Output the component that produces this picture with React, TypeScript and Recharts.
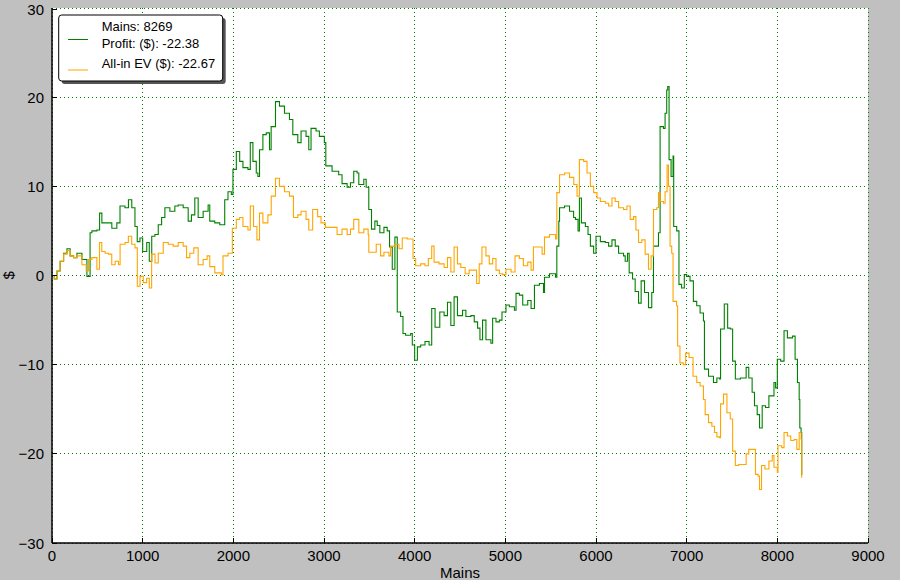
import React from "react";
import { LineChart, Line, XAxis, YAxis, CartesianGrid, Legend } from "recharts";

const FONT = '"Liberation Sans", Arial, sans-serif';

// hands played (x) and running totals in $ for each series
const profitHands = [
  0, 25, 55, 90, 128, 165, 200, 238, 275, 330, 385, 420, 440, 495, 525, 550, 605, 660, 715, 750,
  805, 843, 880, 915, 940, 970, 1000, 1045, 1073, 1100, 1135, 1172, 1209, 1245, 1300, 1355, 1392,
  1447, 1502, 1538, 1575, 1612, 1667, 1722, 1740, 1795, 1850, 1886, 1905, 1941, 1978, 1996, 2033,
  2070, 2106, 2161, 2187, 2216, 2253, 2271, 2289, 2326, 2363, 2399, 2417, 2465, 2509, 2564, 2619,
  2656, 2711, 2747, 2802, 2832, 2857, 2912, 2949, 3004, 3020, 3089, 3162, 3199, 3255, 3292, 3328,
  3365, 3384, 3439, 3465, 3494, 3524, 3561, 3587, 3616, 3661, 3697, 3723, 3753, 3782, 3808, 3845,
  3871, 3900, 3956, 3974, 4000, 4030, 4066, 4114, 4159, 4188, 4225, 4277, 4325, 4362, 4399, 4435,
  4472, 4528, 4565, 4620, 4657, 4694, 4720, 4749, 4786, 4841, 4860, 4897, 4934, 4963, 5007, 5044,
  5100, 5118, 5155, 5192, 5247, 5284, 5321, 5376, 5421, 5432, 5487, 5554, 5568, 5590, 5598, 5653,
  5708, 5753, 5773, 5802, 5817, 5839, 5883, 5912, 5938, 5974, 6000, 6048, 6103, 6139, 6176, 6212,
  6249, 6304, 6322, 6348, 6366, 6403, 6432, 6469, 6498, 6535, 6579, 6615, 6634, 6670, 6689, 6707,
  6744, 6762, 6780, 6791, 6806, 6828, 6850, 6857, 6890, 6915, 6944, 6974, 7000, 7037, 7074, 7111,
  7148, 7185, 7196, 7241, 7296, 7333, 7363, 7374, 7415, 7452, 7481, 7507, 7537, 7593, 7656, 7685,
  7722, 7748, 7778, 7804, 7833, 7870, 7907, 7944, 7963, 7981, 8000, 8037, 8074, 8111, 8167, 8196,
  8222, 8241, 8248, 8262, 8269,
];
const profitValues = [
  0, -0.4, 0.5, 1.6, 2.5, 3.0, 2.2, 2.0, 2.5, 1.8, -0.1, 4.8, 5.0, 5.1, 7.0, 5.9, 5.9, 5.3, 5.9, 7.8,
  7.6, 8.5, 7.6, 5.5, 3.8, 4.2, 2.7, 3.7, 1.6, 4.4, 4.6, 5.7, 6.5, 7.6, 7.2, 7.8, 7.9,
  7.6, 6.1, 6.8, 8.7, 6.5, 7.2, 7.9, 6.1, 5.9, 5.7, 5.7, 8.5, 9.4, 9.1, 11.9, 13.9,
  12.8, 12.1, 11.9, 14.9, 12.8, 11.5, 11.1, 14.1, 15.8, 16.0, 14.1, 16.7, 19.5, 19.0, 18.2, 17.5,
  15.8, 14.9, 16.2, 15.6, 14.1, 16.5, 16.2, 15.6, 14.9, 12.3, 11.7, 11.3, 10.3, 9.9, 10.4, 11.7,
  11.5, 10.2, 10.8, 9.9, 7.4, 5.2, 6.1, 5.6, 4.8, 5.4, 5.0, 3.2, 0.7, 4.3, -4.1, -4.6,
  -6.5, -6.7, -6.5, -7.8, -9.5, -8.0, -7.8, -7.4, -7.8, -3.7, -5.8, -4.1, -4.5, -3.0, -5.6, -2.4,
  -4.5, -3.9, -4.6, -4.5, -5.2, -5.9, -7.2, -5.0, -7.2, -7.6, -4.8, -5.2, -5.0, -4.1, -3.3, -3.5,
  -3.9, -2.0, -2.2, -3.3, -2.8, -3.7, -1.1, -0.9, -1.9, -0.2, 0.2, -0.2, 3.3, 6.1, 7.6, 7.8,
  7.2, 6.5, 6.3, 5.0, 8.7, 5.9, 5.5, 4.6, 3.3, 2.5, 4.4, 3.8, 3.7, 3.3, 4.0, 3.3,
  2.5, 2.2, 1.6, 2.5, 0.3, -0.4, -1.8, -3.1, -0.6, -1.9, -3.6, -1.9, 3.3, 3.3, 4.8, 16.7,
  16.5, 18.2, 20.8, 21.2, 13.0, 11.1, 13.4, 5.5, 5.0, -1.0, -1.4, 0.1, -0.1, -0.6, -2.9, -3.4,
  -4.2, -5.1, -10.5, -11.3, -12.0, -11.5, -11.6, -6.0, -3.2, -5.9, -6.0, -9.6, -11.6, -11.5, -10.3, -11.5,
  -13.1, -14.6, -15.6, -17.1, -14.6, -14.8, -13.5, -13.5, -12.0, -12.6, -9.4, -9.6, -6.2, -7.0, -6.8, -9.4,
  -12.0, -13.9, -17.1, -17.6, -22.38,
];

const evHands = [
  0, 25, 55, 90, 128, 165, 200, 238, 275, 330, 377, 403, 440, 495, 524, 549, 586, 623, 659, 696,
  733, 751, 806, 842, 879, 916, 941, 971, 1007, 1044, 1073, 1099, 1136, 1172, 1209, 1227, 1282,
  1337, 1392, 1447, 1484, 1520, 1564, 1612, 1667, 1711, 1740, 1795, 1868, 1886, 1941, 1978, 1989,
  2033, 2070, 2106, 2161, 2187, 2223, 2260, 2289, 2326, 2381, 2418, 2465, 2509, 2564, 2619, 2663,
  2711, 2747, 2802, 2832, 2875, 2930, 2967, 3015, 3070, 3144, 3199, 3255, 3292, 3328, 3365, 3384,
  3439, 3487, 3494, 3550, 3576, 3624, 3661, 3716, 3734, 3782, 3827, 3863, 3919, 3956, 3982, 4011,
  4066, 4114, 4151, 4188, 4214, 4269, 4325, 4362, 4399, 4435, 4472, 4509, 4557, 4601, 4646, 4683,
  4712, 4742, 4786, 4823, 4860, 4897, 4934, 4970, 5007, 5063, 5107, 5155, 5199, 5247, 5284, 5310,
  5358, 5406, 5432, 5487, 5554, 5568, 5598, 5653, 5708, 5755, 5791, 5817, 5864, 5901, 5938, 5974,
  6011, 6048, 6103, 6139, 6176, 6212, 6249, 6304, 6341, 6377, 6414, 6440, 6469, 6505, 6542, 6579,
  6608, 6634, 6670, 6689, 6707, 6744, 6762, 6784, 6799, 6817, 6835, 6850, 6889, 6900, 6926, 6963,
  6989, 7026, 7070, 7111, 7148, 7185, 7204, 7241, 7278, 7307, 7333, 7363, 7374, 7407, 7444, 7481,
  7507, 7537, 7574, 7630, 7656, 7685, 7741, 7759, 7789, 7804, 7826, 7863, 7907, 7944, 7963, 8000,
  8007, 8048, 8074, 8111, 8148, 8185, 8215, 8241, 8262, 8269,
];
const evValues = [
  0, -0.4, 0.5, 1.6, 2.4, 2.8, 2.2, 2.0, 2.2, 1.2, 0.5, 1.8, 2.0, 0.7, 3.7, 2.7, 2.5, 2.4, 1.2, 1.6,
  1.2, 3.5, 3.7, 4.4, 3.5, 3.1, -1.2, -0.1, -0.8, -0.3, -1.4, 2.4, 1.4, 2.5, 2.5, 3.7, 3.5,
  3.3, 3.7, 3.3, 2.0, 2.5, 3.1, 1.2, 1.8, 2.2, 1.0, 0.3, 0.1, 2.2, 2.5, 2.5, 5.3,
  6.3, 6.5, 5.5, 5.1, 7.8, 5.5, 4.0, 7.0, 5.9, 6.8, 8.9, 10.9, 10.0, 9.4, 8.9, 6.5,
  6.8, 7.2, 6.3, 5.1, 7.4, 6.6, 5.9, 5.4, 5.4, 4.6, 5.2, 4.6, 5.2, 6.3, 6.3, 4.8,
  5.2, 4.6, 2.6, 2.6, 3.5, 2.2, 2.6, 2.2, 3.3, 3.5, 3.0, 4.2, 4.1, 4.1, 1.9, 1.1,
  1.3, 1.1, 1.9, 3.3, 1.5, 1.3, 0.9, 2.0, 0.4, 3.2, 1.3, 0.9, 0.2, 0.6, 0.6, -0.9,
  1.3, 3.2, 2.2, 1.3, 1.9, 0.6, 0.2, 0.1, 0.7, 0.4, 2.2, 1.9, 1.1, 1.5, 0.6, 3.2,
  3.2, 2.4, 4.3, 4.6, 4.1, 9.3, 11.3, 11.5, 11.0, 10.2, 8.9, 13.0, 12.8, 11.5, 10.0, 9.3,
  8.7, 8.3, 8.1, 7.8, 8.7, 8.3, 7.6, 7.4, 7.8, 6.3, 6.6, 5.1, 3.7, 4.0, 2.4, 0.7,
  2.2, 7.4, 7.6, 9.3, 8.3, 8.1, 9.4, 12.4, 10.0, 3.3, 2.5, -2.9, -3.4, -7.9, -9.8, -10.0,
  -8.7, -9.2, -11.3, -12.0, -12.4, -13.9, -15.6, -16.5, -16.9, -17.6, -18.1, -18.2, -14.4, -13.3, -15.4, -16.1,
  -19.7, -21.3, -21.2, -21.2, -20.0, -19.5, -19.5, -22.3, -22.5, -24.0, -21.3, -21.7, -20.8, -20.2, -21.5, -22.1,
  -19.1, -19.3, -17.6, -18.0, -18.5, -18.4, -19.5, -17.6, -18.4, -22.67,
];

const xTicks = [0, 1000, 2000, 3000, 4000, 5000, 6000, 7000, 8000, 9000];
const yTicks = [-30, -20, -10, 0, 10, 20, 30];

const legendLines = ["Mains: 8269", "Profit: ($): -22.38", "All-in EV ($): -22.67"];

const profitData = profitHands.map((h, i) => ({ h, v: profitValues[i] }));
const evData = evHands.map((h, i) => ({ h, v: evValues[i] }));

const fmt = (v: number) => (v < 0 ? `\u2212${-v}` : `${v}`);

function BottomTick({ x, y, payload }: any) {
  return (
    <g>
      <line x1={x} y1={y} x2={x} y2={y - 5} stroke="#000" shapeRendering="crispEdges" />
      <text x={x} y={y + 17.5} textAnchor="middle" fontSize={15} fontFamily={FONT} fill="#000">
        {payload.value}
      </text>
    </g>
  );
}

function LeftTick({ x, y, payload }: any) {
  return (
    <g>
      <line x1={x} y1={y} x2={x + 5} y2={y} stroke="#000" shapeRendering="crispEdges" />
      <text x={x - 8} y={y + 5.5} textAnchor="end" fontSize={15} fontFamily={FONT} fill="#000">
        {fmt(payload.value)}
      </text>
    </g>
  );
}

function TopTick({ x, y }: any) {
  return <line x1={x} y1={y} x2={x} y2={y + 5} stroke="#000" shapeRendering="crispEdges" />;
}

function RightTick({ x, y }: any) {
  return <line x1={x} y1={y} x2={x - 5} y2={y} stroke="#000" shapeRendering="crispEdges" />;
}

function LegendBox() {
  return (
    <svg width={172} height={74} style={{ display: "block" }}>
      <rect x={4.7} y={4} width={164} height={66} rx={3} fill="#555" />
      <rect x={1.7} y={1} width={164} height={66} rx={3} fill="#fff" stroke="#000" />
      <g fontFamily={FONT} fontSize={13} fill="#000">
        <text x={44.7} y={16.5}>{legendLines[0]}</text>
        <text x={44.7} y={33.5}>{legendLines[1]}</text>
        <text x={44.7} y={53.7}>{legendLines[2]}</text>
      </g>
      <line x1={11} y1={25.5} x2={31} y2={25.5} stroke="#008000" />
      <line x1={11} y1={56} x2={31} y2={56} stroke="#FFA500" />
    </svg>
  );
}

export default function App() {
  return (
    <div style={{ position: "absolute", left: 0, top: 0, width: 900, height: 580, background: "#c0c0c0" }}>
      <LineChart width={900} height={580} margin={{ top: 8, right: 32, bottom: 0, left: 0 }}>
        <CartesianGrid stroke="#008000" strokeDasharray="1 3" fill="#fff" shapeRendering="crispEdges" />
        <XAxis
          dataKey="h"
          type="number"
          domain={[0, 9000]}
          ticks={xTicks}
          height={37}
          tickSize={0}
          tickMargin={0}
          tick={<BottomTick />}
          axisLine={{ stroke: "#000", strokeWidth: 1.5 }}
          label={{ value: "Mains", position: "insideBottom", offset: 2, fontSize: 15, fill: "#000", fontFamily: FONT }}
        />
        <XAxis
          xAxisId="top"
          orientation="top"
          dataKey="h"
          type="number"
          domain={[0, 9000]}
          ticks={xTicks}
          height={0}
          tickSize={0}
          tickMargin={0}
          tick={<TopTick />}
          axisLine={{ stroke: "#000", strokeWidth: 1.5 }}
        />
        <YAxis
          type="number"
          domain={[-30, 30]}
          ticks={yTicks}
          width={52}
          tickSize={0}
          tickMargin={0}
          tick={<LeftTick />}
          axisLine={{ stroke: "#000", strokeWidth: 1.5 }}
          label={{ value: "$", angle: -90, position: "insideLeft", offset: 9, dy: 4, fontSize: 15, fill: "#000", fontFamily: FONT }}
        />
        <YAxis
          yAxisId="right"
          orientation="right"
          type="number"
          domain={[-30, 30]}
          ticks={yTicks}
          width={0}
          tickSize={0}
          tickMargin={0}
          tick={<RightTick />}
          axisLine={{ stroke: "#000", strokeWidth: 1.5 }}
        />
        <Legend
          verticalAlign="middle"
          content={() => <LegendBox />}
          wrapperStyle={{ left: 57, top: 14, width: 172, height: 74 }}
        />
        <Line
          data={profitData}
          dataKey="v"
          type="stepAfter"
          stroke="#008000"
          strokeWidth={1.1}
          dot={false}
          isAnimationActive={false}
        />
        <Line
          data={evData}
          dataKey="v"
          type="stepAfter"
          stroke="#FFA500"
          strokeWidth={1.1}
          dot={false}
          isAnimationActive={false}
        />
      </LineChart>
    </div>
  );
}
